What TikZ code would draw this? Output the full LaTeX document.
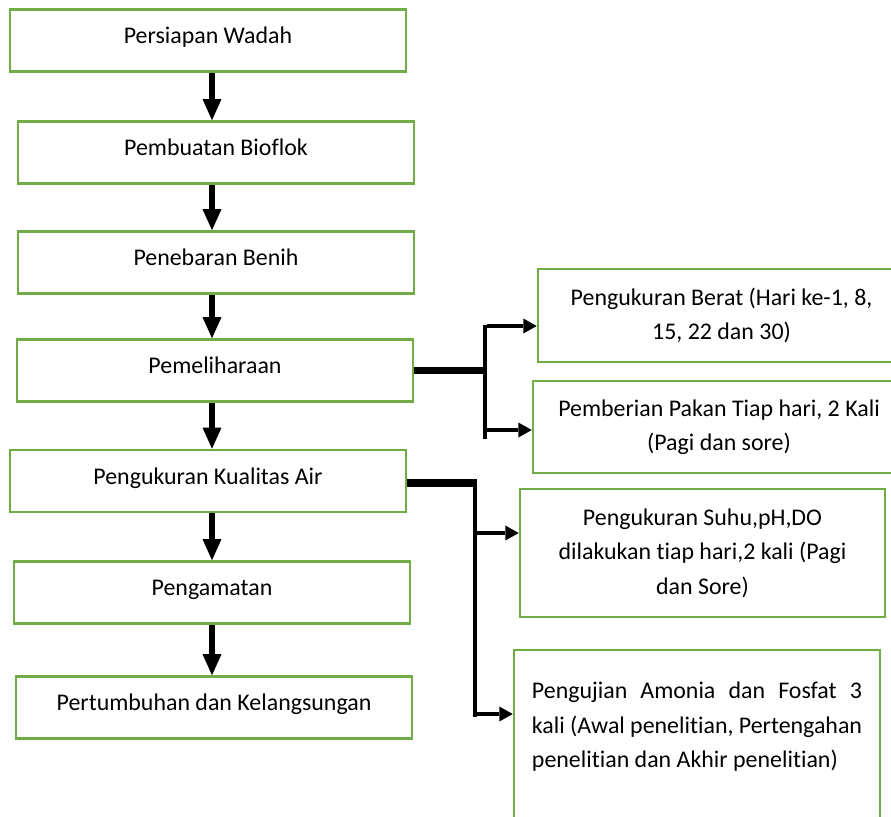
\documentclass[tikz,border=0pt]{standalone}
\usepackage{fontspec}
\setmainfont{Carlito}[RawFeature={-liga;-clig;-calt;-dlig}]
\usetikzlibrary{arrows.meta,positioning}
\definecolor{boxgreen}{HTML}{70AD47}

\begin{document}
\begin{tikzpicture}[x=0.025cm, y=-0.025cm,
  stepbox/.style={draw=boxgreen, line width=1.8pt, minimum width=9.9cm,
                  minimum height=1.55cm, inner sep=0pt,
                  text height=12.8pt, text depth=8.5pt,
                  font=\fontsize{17}{24.5}\selectfont},
  infobox/.style={draw=boxgreen, line width=1.8pt, inner sep=0pt,
                  align=center, font=\fontsize{17}{24.5}\selectfont},
  down/.style={line width=4.8pt,
               -{Triangle[width=13.5pt,length=15pt,line width=0pt]}},
  trunk/.style={line width=5pt},
  spine/.style={line width=3.5pt},
  side/.style={line width=3.2pt,
               -{Triangle[width=10.7pt,length=9.5pt,line width=0pt]}},
]
\clip (0,0) rectangle (891,816);
% Main steps
\node[stepbox] (wadah)    at (208,40.5)  {Persiapan Wadah};
\node[stepbox] (bioflok)  at (216,152.5) {Pembuatan Bioflok};
\node[stepbox] (benih)    at (216,262.5) {Penebaran Benih};
\node[stepbox] (pelihara) at (215,370.5) {Pemeliharaan};
\node[stepbox] (kualitas) at (208,481)   {Pengukuran Kualitas Air};
\node[stepbox] (amati)    at (212,592.5) {Pengamatan};
\node[stepbox] (tumbuh)   at (214,707.5) {Pertumbuhan dan Kelangsungan};
% Arrows down the column
\coordinate (col) at (212,0);
\draw[down] (col |- wadah.south)    -- (col |- bioflok.north);
\draw[down] (col |- bioflok.south)  -- (col |- benih.north);
\draw[down] (col |- benih.south)    -- (col |- pelihara.north);
\draw[down] (col |- pelihara.south) -- (col |- kualitas.north);
\draw[down] (col |- kualitas.south) -- (col |- amati.north);
\draw[down] (col |- amati.south)    -- (col |- tumbuh.north);
% Side boxes of Pemeliharaan
\node[infobox, minimum width=9.175cm, minimum height=2.325cm] (berat)
  at (721.5,315.5) {Pengukuran Berat (Hari ke-1, 8,\\15, 22 dan 30)};
\node[infobox, minimum width=9.3cm, minimum height=2.3cm] (pakan)
  at (719,427) {Pemberian Pakan Tiap hari, 2 Kali\\(Pagi dan sore)};
% Side boxes of Pengukuran Kualitas Air
\node[infobox, minimum width=9.125cm, minimum height=3.2cm] (suhu)
  at (702.5,553) {Pengukuran Suhu,pH,DO\\dilakukan tiap hari,2 kali (Pagi\\dan Sore)};
\node[infobox, align=justify, text width=8.25cm, inner xsep=0.45cm,
      minimum height=4.6cm] (amonia) at (697,742) {
  Pengujian Amonia dan Fosfat 3 kali (Awal penelitian, Pertengahan
  penelitian dan Akhir penelitian)\par\mbox{}};
% Branch from Pemeliharaan
\coordinate (j1top) at (485,325);
\coordinate (j1bot) at (485,439);
\coordinate (j1a) at (487,326);
\coordinate (j1b) at (485,430);
\draw[trunk] (pelihara.east) -- (pelihara.east -| j1top);
\draw[spine] (j1top) -- (j1bot);
\draw[side] (j1a) -- (j1a -| berat.west);
\draw[side] (j1b) -- (j1b -| pakan.west);
% Branch from Pengukuran Kualitas Air
\coordinate (j2top) at (475,479);
\coordinate (j2bot) at (475,717);
\coordinate (j2a) at (475,533);
\coordinate (j2b) at (475,714);
\draw[trunk] (kualitas.east |- 0,483) -- (j2top |- 0,483);
\draw[spine] (j2top) -- (j2bot);
\draw[side] (j2a) -- (j2a -| suhu.west);
\draw[side] (j2b) -- (j2b -| amonia.west);
\end{tikzpicture}
\end{document}
